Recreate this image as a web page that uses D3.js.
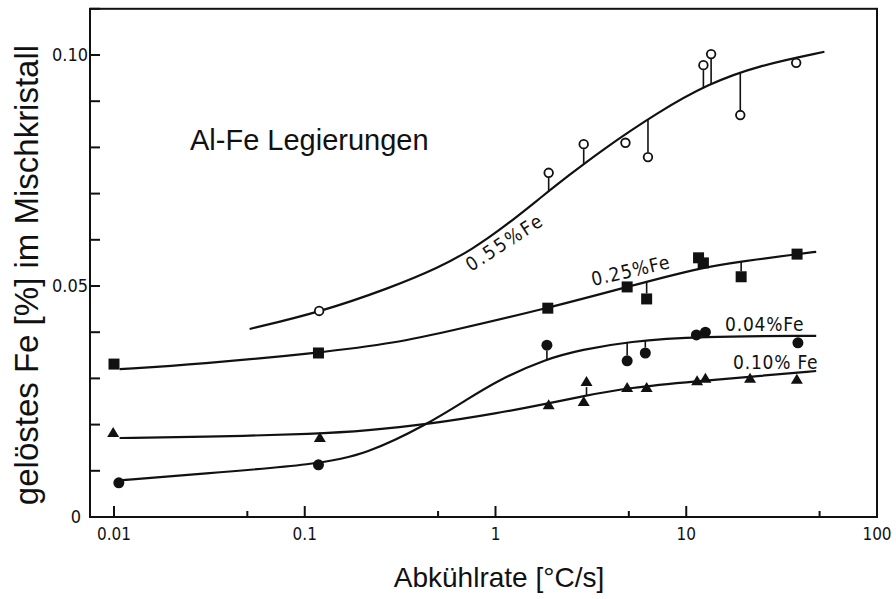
<!DOCTYPE html>
<html>
<head>
<meta charset="utf-8">
<script src="https://cdn.jsdelivr.net/npm/d3@7"></script>
<style>
  body { margin: 0; background: #fff; }
  svg { display: block; }
</style>
</head>
<body>
<svg id="chart" width="896" height="599"></svg>
<script>
// ---- axis ticks ----
const xTickMajor = [0.01, 0.1, 1, 10, 100];
const xTickMajorLabels = ["0.01", "0.1", "1", "10", "100"];
const xTickMinor = [0.05, 0.5, 5, 50];
const yTickValues = [0.01, 0.02, 0.03, 0.04, 0.05, 0.06, 0.07, 0.08, 0.09, 0.10, 0.11];
const yLabelValues = [0, 0.05, 0.10];
const yLabelTexts = ["0", "0.05", "0.10"];

// ---- 0.55 % Fe (open circles) ----
const fe055X = [0.119, 1.9, 2.9, 4.8, 6.3, 12.3, 13.5, 19.2, 37.7];
const fe055Y = [0.0446, 0.0745, 0.0807, 0.0810, 0.0779, 0.0978, 0.1002, 0.0870, 0.0983];
const fe055CurveX = [0.0514, 0.119, 0.277, 0.506, 0.753, 1.13, 1.83, 2.42, 3.47, 7.14, 13.1, 23.8, 53];
const fe055CurveY = [0.0407, 0.0443, 0.0495, 0.0540, 0.0579, 0.0630, 0.0700, 0.0739, 0.0789, 0.0877, 0.0938, 0.0977, 0.1007];

// ---- 0.25 % Fe (filled squares) ----
const fe025X = [0.01, 0.118, 1.88, 4.9, 6.2, 11.6, 12.3, 19.4, 38.1];
const fe025Y = [0.0331, 0.0355, 0.0452, 0.0498, 0.0472, 0.0561, 0.0550, 0.0520, 0.0569];
const fe025CurveX = [0.0107, 0.028, 0.118, 0.313, 0.57, 1.88, 4.9, 11.6, 19.4, 38.1, 48];
const fe025CurveY = [0.0320, 0.0331, 0.0355, 0.0378, 0.0402, 0.0452, 0.0498, 0.0539, 0.0553, 0.0569, 0.0574];

// ---- 0.04 % Fe (filled circles) ----
const fe004X = [0.0106, 0.118, 1.86, 4.9, 6.1, 11.3, 12.6, 38.5];
const fe004Y = [0.0074, 0.0113, 0.0372, 0.0338, 0.0355, 0.0394, 0.0400, 0.0377];
const fe004CurveX = [0.0111, 0.028, 0.118, 0.21, 0.432, 0.70, 1.04, 1.83, 2.83, 4.98, 11.6, 48];
const fe004CurveY = [0.0080, 0.0093, 0.0114, 0.0136, 0.0199, 0.0253, 0.0297, 0.0342, 0.0362, 0.0380, 0.0391, 0.0392];

// ---- 0.10 % Fe (filled triangles) ----
const fe010X = [0.0099, 0.12, 1.9, 2.9, 3.0, 4.9, 6.2, 11.4, 12.6, 21.6, 38];
const fe010Y = [0.0182, 0.0171, 0.0242, 0.0249, 0.0292, 0.0279, 0.0279, 0.0294, 0.0299, 0.0299, 0.0297];
const fe010CurveX = [0.0107, 0.028, 0.12, 0.21, 0.432, 1.04, 1.89, 2.83, 4.98, 11.6, 23.8, 48];
const fe010CurveY = [0.0171, 0.0173, 0.0180, 0.0187, 0.0200, 0.0225, 0.0246, 0.0261, 0.0280, 0.0294, 0.0305, 0.0316];

const seriesNames = ["0.55%Fe", "0.25%Fe", "0.04%Fe", "0.10% Fe"];

const series = [
  { name: seriesNames[0], marker: "openCircle", px: fe055X, py: fe055Y, cx: fe055CurveX, cy: fe055CurveY },
  { name: seriesNames[1], marker: "square", px: fe025X, py: fe025Y, cx: fe025CurveX, cy: fe025CurveY },
  { name: seriesNames[2], marker: "circle", px: fe004X, py: fe004Y, cx: fe004CurveX, cy: fe004CurveY },
  { name: seriesNames[3], marker: "triangle", px: fe010X, py: fe010Y, cx: fe010CurveX, cy: fe010CurveY }
];

const svg = d3.select("#chart");
const x = d3.scaleLog().domain([0.01, 100]).range([114, 877]);
const y = d3.scaleLinear().domain([0, 0.10]).range([517, 55]);

const frameLeft = 90, frameRight = x(100), frameTop = y(0.11), frameBottom = y(0);
const tickFont = "'DejaVu Sans Condensed', 'Liberation Sans Narrow', sans-serif";
const curveFont = "'DejaVu Sans Condensed', 'Liberation Sans Narrow', sans-serif";
const titleFont = "'Liberation Sans', Arial, sans-serif";

// frame
svg.append("rect")
  .attr("x", frameLeft).attr("y", frameTop)
  .attr("width", frameRight - frameLeft).attr("height", frameBottom - frameTop)
  .attr("fill", "none").attr("stroke", "#111").attr("stroke-width", 2);

// y ticks, pointing inward
svg.append("g").selectAll("line").data(yTickValues).join("line")
  .attr("x1", frameLeft).attr("x2", frameLeft + 10)
  .attr("y1", d => y(d)).attr("y2", d => y(d))
  .attr("stroke", "#111").attr("stroke-width", 2);

svg.append("g").selectAll("text").data(yLabelValues).join("text")
  .attr("x", (d, i) => i === 0 ? frameLeft - 9 : frameLeft - 2)
  .attr("y", d => y(d))
  .attr("dy", "0.36em")
  .attr("text-anchor", "end")
  .attr("font-family", tickFont)
  .attr("font-size", 18)
  .attr("fill", "#111")
  .text((d, i) => yLabelTexts[i]);

// x ticks
svg.append("g").selectAll("line").data(xTickMajor.filter(d => d < 100)).join("line")
  .attr("x1", d => x(d)).attr("x2", d => x(d))
  .attr("y1", frameBottom).attr("y2", frameBottom - 11)
  .attr("stroke", "#111").attr("stroke-width", 2);
svg.append("g").selectAll("line").data(xTickMinor).join("line")
  .attr("x1", d => x(d)).attr("x2", d => x(d))
  .attr("y1", frameBottom).attr("y2", frameBottom - 6)
  .attr("stroke", "#111").attr("stroke-width", 2);
svg.append("g").selectAll("text").data(xTickMajor).join("text")
  .attr("x", d => x(d))
  .attr("y", frameBottom + 23)
  .attr("text-anchor", "middle")
  .attr("font-family", tickFont)
  .attr("font-size", 17)
  .attr("fill", "#111")
  .text((d, i) => xTickMajorLabels[i]);

// axis titles
svg.append("text")
  .attr("x", 499).attr("y", 587)
  .attr("text-anchor", "middle")
  .attr("font-family", titleFont)
  .attr("font-size", 28)
  .attr("fill", "#111")
  .text("Abkühlrate [°C/s]");

svg.append("text")
  .attr("transform", "translate(38,275) rotate(-90)")
  .attr("text-anchor", "middle")
  .attr("font-family", titleFont)
  .attr("font-size", 33)
  .attr("fill", "#111")
  .text("gelöstes Fe [%] im Mischkristall");

svg.append("text")
  .attr("x", 190).attr("y", 150)
  .attr("font-family", titleFont)
  .attr("font-size", 29)
  .attr("fill", "#111")
  .text("Al-Fe Legierungen");

// fitted curves
const line = d3.line()
  .x(d => x(d[0]))
  .y(d => y(d[1]))
  .curve(d3.curveBasis);

const curveNodes = series.map(s => {
  const pts = s.cx.map((v, i) => [v, s.cy[i]]);
  return svg.append("path")
    .attr("d", line(pts))
    .attr("fill", "none")
    .attr("stroke", "#111")
    .attr("stroke-width", 2.2)
    .node();
});

// vertical position of a curve at a given screen x
function curveYAt(node, px) {
  const total = node.getTotalLength();
  const start = node.getPointAtLength(0), end = node.getPointAtLength(total);
  if (px < start.x || px > end.x) return null;
  let lo = 0, hi = total, pt = start;
  for (let k = 0; k < 40; k++) {
    const mid = (lo + hi) / 2;
    pt = node.getPointAtLength(mid);
    if (pt.x < px) lo = mid; else hi = mid;
  }
  return pt.y;
}

const markerSize = { openCircle: 5, circle: 5.5, square: 5.5, triangle: 5 };

series.forEach((s, si) => {
  const g = svg.append("g");
  s.px.forEach((vx, i) => {
    const mx = x(vx), my = y(s.py[i]);
    const r = markerSize[s.marker];
    // deviation stem from the point to the curve
    const cyv = curveYAt(curveNodes[si], mx);
    if (cyv !== null && Math.abs(cyv - my) > 10) {
      const from = cyv > my ? my + r : my - r;
      g.append("line")
        .attr("x1", mx).attr("x2", mx)
        .attr("y1", from).attr("y2", cyv)
        .attr("stroke", "#111").attr("stroke-width", 1.6);
    }
    if (s.marker === "openCircle") {
      g.append("circle").attr("cx", mx).attr("cy", my).attr("r", 4.3)
        .attr("fill", "#fff").attr("stroke", "#111").attr("stroke-width", 1.8);
    } else if (s.marker === "circle") {
      g.append("circle").attr("cx", mx).attr("cy", my).attr("r", r).attr("fill", "#111");
    } else if (s.marker === "square") {
      g.append("rect").attr("x", mx - r).attr("y", my - r)
        .attr("width", 2 * r).attr("height", 2 * r).attr("fill", "#111");
    } else {
      g.append("path")
        .attr("d", `M${mx},${my - r - 1}L${mx + r + 1},${my + r - 1}L${mx - r - 1},${my + r - 1}Z`)
        .attr("fill", "#111");
    }
  });
});

// curve labels
const curveLabels = [
  { text: seriesNames[0], x: 471, y: 272, angle: -33, spacing: 2.2 },
  { text: seriesNames[1], x: 593, y: 286, angle: -13, spacing: 1 },
  { text: seriesNames[2], x: 725, y: 331, angle: 0, spacing: 0.8 },
  { text: seriesNames[3], x: 733, y: 369, angle: 0, spacing: 0.8 }
];
svg.append("g").selectAll("text").data(curveLabels).join("text")
  .attr("transform", d => `translate(${d.x},${d.y}) rotate(${d.angle})`)
  .attr("font-family", curveFont)
  .attr("font-size", 19)
  .attr("letter-spacing", d => d.spacing)
  .attr("fill", "#111")
  .text(d => d.text);
</script>
</body>
</html>
